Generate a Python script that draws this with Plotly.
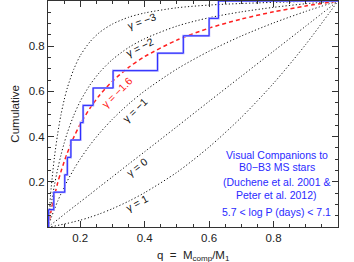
import plotly.graph_objects as go

# ---- data ----
q_grid = [0.10, 0.11, 0.12, 0.13, 0.14, 0.15, 0.16, 0.18, 0.20, 0.23, 0.26,
          0.30, 0.35, 0.40, 0.50, 0.60, 0.70, 0.80, 0.90, 1.00]
cum_g_m3 = [0.0, 0.175, 0.309, 0.412, 0.495, 0.561, 0.616, 0.698, 0.758, 0.819, 0.861,
            0.898, 0.928, 0.947, 0.970, 0.982, 0.989, 0.994, 0.998, 1.0]
cum_g_m2 = [0.0, 0.101, 0.185, 0.256, 0.317, 0.370, 0.417, 0.494, 0.556, 0.628, 0.684,
            0.741, 0.794, 0.833, 0.889, 0.926, 0.952, 0.972, 0.988, 1.0]
cum_g_m16 = [0.0, 0.074, 0.138, 0.195, 0.244, 0.288, 0.328, 0.397, 0.455, 0.525, 0.583,
             0.645, 0.706, 0.754, 0.827, 0.880, 0.920, 0.952, 0.978, 1.0]
cum_g_m1 = [0.0, 0.041, 0.079, 0.114, 0.146, 0.176, 0.204, 0.255, 0.301, 0.362, 0.415,
            0.477, 0.544, 0.602, 0.699, 0.778, 0.845, 0.903, 0.954, 1.0]
cum_g_0 = [0.0, 0.011, 0.022, 0.033, 0.044, 0.056, 0.067, 0.089, 0.111, 0.144, 0.178,
           0.222, 0.278, 0.333, 0.444, 0.556, 0.667, 0.778, 0.889, 1.0]
cum_g_p1 = [0.0, 0.002, 0.004, 0.007, 0.010, 0.013, 0.016, 0.023, 0.030, 0.043, 0.058,
            0.081, 0.114, 0.152, 0.242, 0.354, 0.485, 0.636, 0.808, 1.0]

# observed companions (empirical cumulative distribution, 13 systems)
obs_q = [0.10, 0.102, 0.118, 0.152, 0.160, 0.171, 0.201, 0.209, 0.240, 0.302,
         0.440, 0.520, 0.600, 0.629, 1.00]
obs_cum = [0.0, 0.077, 0.154, 0.231, 0.308, 0.385, 0.462, 0.538, 0.615, 0.692,
           0.769, 0.846, 0.923, 1.0, 1.0]

x_ticks = [0.2, 0.4, 0.6, 0.8]
y_ticks = [0.2, 0.4, 0.6, 0.8]
minor_x = [0.15, 0.25, 0.3, 0.35, 0.45, 0.5, 0.55, 0.65, 0.7, 0.75, 0.85, 0.9, 0.95]
minor_y = [0.05, 0.1, 0.15, 0.25, 0.3, 0.35, 0.45, 0.5, 0.55, 0.65, 0.7, 0.75,
           0.85, 0.9, 0.95]

# label placement for the model curves: (text, x, y, angle, colour)
labels = [
    ("γ = −3", 0.391, 0.912, -20, "#111111"),
    ("γ = −2", 0.385, 0.797, -27, "#111111"),
    ("γ = −1.6", 0.315, 0.596, -45, "#ff2020"),
    ("γ = −1", 0.369, 0.519, -44, "#111111"),
    ("γ = 0", 0.375, 0.267, -38, "#111111"),
    ("γ = 1", 0.375, 0.108, -28, "#111111"),
]

info_lines = ["Visual Companions to", "B0−B3 MS stars", "(Duchene et al. 2001 &",
              "Peter et al. 2012)", "5.7 < log P (days) < 7.1"]
info_y = [0.318, 0.267, 0.198, 0.143, 0.068]

FONT = "Liberation Sans, Arial, sans-serif"
AX = "#333333"

fig = go.Figure()

dot = "1.2px,2.2px"
for ys in [cum_g_m3, cum_g_m2, cum_g_m1, cum_g_0, cum_g_p1]:
    fig.add_trace(go.Scatter(x=q_grid, y=ys, mode="lines",
                             line=dict(color="#111111", width=1, dash=dot,
                                       shape="spline", smoothing=0.8),
                             hoverinfo="skip", showlegend=False))

fig.add_trace(go.Scatter(x=q_grid, y=cum_g_m16, mode="lines",
                         line=dict(color="#ff2020", width=1.5, dash="4px,3px",
                                   shape="spline", smoothing=0.8),
                         hoverinfo="skip", showlegend=False))

fig.add_trace(go.Scatter(x=obs_q, y=obs_cum, mode="lines",
                         line=dict(color="#a8a8ff", width=2.2, shape="hv"),
                         hoverinfo="skip", showlegend=False))
fig.add_trace(go.Scatter(x=obs_q, y=obs_cum, mode="lines",
                         line=dict(color="#2a2aff", width=1, shape="hv"),
                         hoverinfo="skip", showlegend=False))

annotations = []
for text, x, y, ang, col in labels:
    annotations.append(dict(x=x, y=y, xref="x", yref="y", text=text, showarrow=False,
                            textangle=ang, font=dict(family=FONT, size=10.5, color=col),
                            xanchor="center", yanchor="middle"))
for text, y in zip(info_lines, info_y):
    annotations.append(dict(x=0.81, y=y, xref="x", yref="y", text=text, showarrow=False,
                            font=dict(family=FONT, size=10.5, color="#2a2aff"),
                            xanchor="center", yanchor="middle"))
annotations.append(dict(x=-0.115, y=0.5, xref="paper", yref="paper", text="Cumulative",
                        textangle=-90, showarrow=False,
                        font=dict(family=FONT, size=11.5, color="#222222"),
                        xanchor="center", yanchor="middle"))
annotations.append(dict(x=0.5, y=-0.128, xref="paper", yref="paper",
                        text="q  =  M<sub>comp</sub>/M<sub>1</sub>",
                        showarrow=False, font=dict(family=FONT, size=11.5, color="#222222"),
                        xanchor="center", yanchor="middle"))

axis_common = dict(showline=True, linecolor=AX, linewidth=1, mirror="ticks",
                   ticks="inside", ticklen=6, tickcolor=AX, tickwidth=1,
                   showgrid=False, zeroline=False,
                   tickfont=dict(family=FONT, size=11.5, color="#222222"))

fig.update_layout(
    width=354, height=262,
    margin=dict(l=48, r=16, t=1, b=35),
    paper_bgcolor="white", plot_bgcolor="white",
    showlegend=False,
    annotations=annotations,
    xaxis=dict(range=[0.1, 1.0], tickmode="array", tickvals=x_ticks,
               ticktext=[f"{v:.1f}" for v in x_ticks],
               minor=dict(tickmode="array", tickvals=minor_x, ticks="inside",
                          ticklen=3, tickcolor=AX),
               **axis_common),
    yaxis=dict(range=[0.0, 1.0], tickmode="array", tickvals=y_ticks,
               ticktext=[f"{v:.1f}" for v in y_ticks],
               minor=dict(tickmode="array", tickvals=minor_y, ticks="inside",
                          ticklen=3, tickcolor=AX),
               **axis_common),
)

fig.write_html("out.html",
               config={"displayModeBar": False},
               post_script="document.body.style.margin='0';document.body.style.padding='0';")
